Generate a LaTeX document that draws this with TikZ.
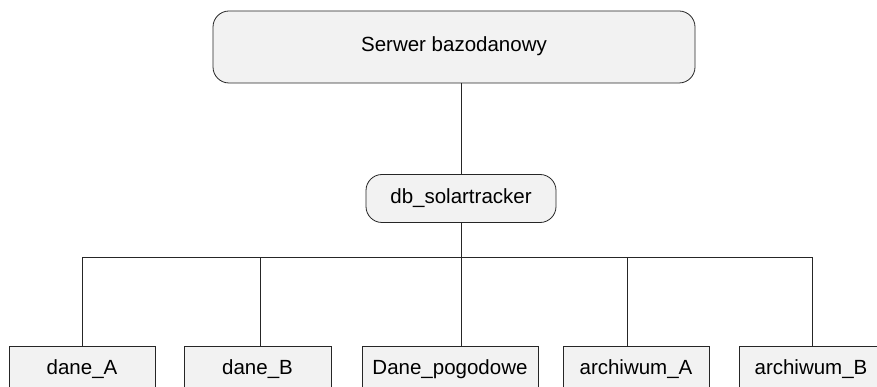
\documentclass[tikz,border=0pt]{standalone}
\usepackage{fontspec}
\setmainfont{Liberation Sans}
\begin{document}
\begin{tikzpicture}[x=1pt,y=-1pt,
  every node/.style={font=\fontsize{20.5}{24}\selectfont, text height=14.5pt, text depth=4.5pt, inner sep=0pt},
  roundbox/.style={draw=black!85, line width=0.8pt, fill=black!5, rounded corners=16pt},
  tablebox/.style={draw=black!85, line width=0.8pt, fill=black!5, minimum height=47pt, anchor=north},
  link/.style={draw=black!85, line width=0.8pt}]
  \clip (0,0) rectangle (877,387);
  \fill[white] (0,0) rectangle (877,387);

  % server and database
  \node[roundbox, minimum width=482pt, minimum height=72pt] (srv) at (454,47) {Serwer bazodanowy};
  \node[roundbox, minimum width=190pt, minimum height=48pt] (db) at (461,198.5) {db\_solartracker};

  % tables
  \node[tablebox, minimum width=146pt] (ta) at (82,346) {dane\_A};
  \node[tablebox, minimum width=147pt] (tb) at (257.5,346) {dane\_B};
  \node[tablebox, minimum width=176pt] (tp) at (450,346) {Dane\_pogodowe};
  \node[tablebox, minimum width=146pt] (tca) at (636,346) {archiwum\_A};
  \node[tablebox, minimum width=144pt] (tcb) at (811,346) {archiwum\_B};

  % branching points on the bus line
  \coordinate (jA) at (82,257);
  \coordinate (jB) at (260,257);
  \coordinate (jP) at (461,257);
  \coordinate (jCA) at (627,257);
  \coordinate (jCB) at (812,257);

  \draw[link] (srv.south -| db.north) -- (db.north);
  \draw[link] (db.south) -- (jP);
  \draw[link] (jA) -- (jCB);
  \draw[link] (jA) -- (jA |- ta.north);
  \draw[link] (jB) -- (jB |- tb.north);
  \draw[link] (jP) -- (jP |- tp.north);
  \draw[link] (jCA) -- (jCA |- tca.north);
  \draw[link] (jCB) -- (jCB |- tcb.north);
\end{tikzpicture}
\end{document}
